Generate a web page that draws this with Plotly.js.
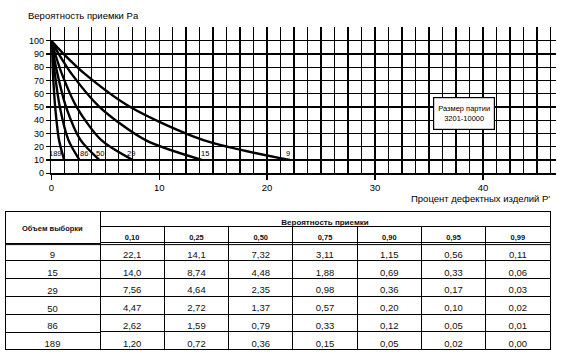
<!DOCTYPE html>
<html>
<head>
<meta charset="utf-8">
<script src="https://cdn.plot.ly/plotly-3.0.1.min.js"></script>
<style>html,body{margin:0;padding:0;background:#fff}#chart{width:568px;height:355px}</style>
</head>
<body>
<div id="chart"></div>
<script>
// ---- data ----
const sampleSizes = [9, 15, 29, 50, 86, 189];
const paValues = [0.10, 0.25, 0.50, 0.75, 0.90, 0.95, 0.99];
const paLabels = ['0,10', '0,25', '0,50', '0,75', '0,90', '0,95', '0,99'];
const p_n9   = [22.1, 14.1, 7.32, 3.11, 1.15, 0.56, 0.11];
const p_n15  = [14.0, 8.74, 4.48, 1.88, 0.69, 0.33, 0.06];
const p_n29  = [7.56, 4.64, 2.35, 0.98, 0.36, 0.17, 0.03];
const p_n50  = [4.47, 2.72, 1.37, 0.57, 0.20, 0.10, 0.02];
const p_n86  = [2.62, 1.59, 0.79, 0.33, 0.12, 0.05, 0.01];
const p_n189 = [1.20, 0.72, 0.36, 0.15, 0.05, 0.02, 0.00];
const startP = 0, startPa = 1.00;
const xTicks = [0, 10, 20, 30, 40];
const yTicks = [0, 10, 20, 30, 40, 50, 60, 70, 80, 90, 100];
const lotLabel = ['Размер партии', '3201-10000'];
const titleY = 'Вероятность приемки Pa';
const titleX = "Процент дефектных изделий P'";
const headSample = 'Объем выборки';
const headPa = 'Вероятность приемки';

// ---- helpers ----
const W = 568, H = 355;
const px = v => v / W;
const py = v => 1 - v / H;
const FONT = 'Liberation Sans, Arial, sans-serif';
const fmt = v => (v >= 10 ? v.toFixed(1) : v.toFixed(2)).replace('.', ',');

const allP = [p_n9, p_n15, p_n29, p_n50, p_n86, p_n189];
const labelShift = [-2, 3, -2, 0, 4, -9];
const X_RANGE = [0, 46.77];

const traces = [];
allP.forEach((arr, i) => {
  const xs = [startP].concat(arr.slice().reverse());
  const ys = [startPa * 100].concat(paValues.slice().reverse().map(v => v * 100));
  traces.push({
    type: 'scatter', mode: 'lines', x: xs, y: ys,
    // first curve is plotted on the fine-grid axis (same scale) so that axis is drawn
    xaxis: i === 0 ? 'x2' : 'x', yaxis: 'y',
    line: {color: '#000', width: 2.4, shape: 'spline', smoothing: 0.8},
    hoverinfo: 'skip', showlegend: false
  });
});

// table traces
const tblLine = {color: '#000', width: 1};
const rowH = 17.83;
const headFont = {family: FONT, size: 7.5, color: '#111', weight: 'bold'};
const headFont2 = {family: FONT, size: 8, color: '#111', weight: 'bold'};
const cellFont = {family: FONT, size: 9.5, color: '#111'};
traces.push({
  type: 'table',
  domain: {x: [px(5), px(100)], y: [0, py(211)]},
  header: {values: [''], height: 32, align: 'center',
           line: tblLine, fill: {color: '#fff'}, font: headFont},
  cells: {values: [sampleSizes.map(String)], height: rowH, align: 'center',
          line: tblLine, fill: {color: '#fff'}, font: cellFont}
});
traces.push({
  type: 'table',
  domain: {x: [px(100), px(550)], y: [py(240), py(211)]},
  header: {values: [headPa], height: 16, align: 'center',
           line: tblLine, fill: {color: '#fff'}, font: headFont2},
  cells: {values: [[]], height: 16, line: tblLine}
});
const colVals = paValues.map((_, j) => allP.map(arr => fmt(arr[j])));
traces.push({
  type: 'table',
  domain: {x: [px(100), px(550)], y: [0, py(226.7)]},
  header: {values: paLabels, height: 16, align: 'center',
           line: tblLine, fill: {color: '#fff'}, font: headFont},
  cells: {values: colVals, height: rowH, align: 'center',
          line: tblLine, fill: {color: '#fff'}, font: cellFont}
});

const annotations = [];
sampleSizes.forEach((n, i) => {
  annotations.push({
    xref: 'x', yref: 'y', x: allP[i][0], y: 15.3, xshift: labelShift[i],
    text: String(n), showarrow: false, font: {family: FONT, size: 7.5, color: '#000'}
  });
});
annotations.push({
  xref: 'x', yref: 'y', x: 38.2, y: 45.1, text: lotLabel.join('<br>'), showarrow: false,
  width: 56, height: 27, borderpad: 2, bordercolor: '#000', borderwidth: 1.2, bgcolor: '#fff',
  font: {family: FONT, size: 7.5, color: '#000'}
});
annotations.push({
  xref: 'paper', yref: 'paper', x: px(409), y: py(198.5), xanchor: 'left', yanchor: 'middle',
  text: titleX, showarrow: false, font: {family: FONT, size: 9.5, color: '#000'}
});
annotations.push({
  xref: 'paper', yref: 'paper', x: px(52.5), y: py(228.5), xanchor: 'center', yanchor: 'middle',
  text: headSample, showarrow: false, font: headFont
});

const layout = {
  width: W, height: H, margin: {l: 0, r: 0, t: 0, b: 0},
  paper_bgcolor: '#fff', plot_bgcolor: '#fff',
  font: {family: FONT, color: '#000'},
  title: {text: titleY, x: px(28), xanchor: 'left', y: py(16), yanchor: 'middle',
          font: {family: FONT, size: 9.5, color: '#000'}},
  showlegend: false,
  xaxis: {
    domain: [px(51.3), px(556)], range: X_RANGE,
    tickmode: 'array', tickvals: xTicks, ticktext: xTicks.map(String),
    ticks: 'outside', ticklen: 5, tickwidth: 1.4, tickcolor: '#000',
    showgrid: true, gridcolor: '#000', gridwidth: 1.4,
    zeroline: false, showline: true, linecolor: '#000', linewidth: 1.5,
    tickfont: {family: FONT, size: 9.5, color: '#000'}, fixedrange: true
  },
  xaxis2: {
    overlaying: 'x', anchor: 'y', side: 'bottom', range: X_RANGE,
    tickmode: 'linear', tick0: 0, dtick: 1.25, ticks: '', showticklabels: false,
    showgrid: true, gridcolor: '#000', gridwidth: 1.4,
    zeroline: false, showline: false, fixedrange: true
  },
  yaxis: {
    domain: [py(173.3), py(26.7)], range: [0, 110.6],
    tickmode: 'array', tickvals: yTicks, ticktext: yTicks.map(String),
    ticks: 'outside', ticklen: 4, tickwidth: 1.4, tickcolor: '#000',
    showgrid: true, gridcolor: '#000', gridwidth: 1.4,
    zeroline: false, showline: true, linecolor: '#000', linewidth: 1.5,
    tickfont: {family: FONT, size: 9, color: '#000'}, fixedrange: true
  },
  annotations: annotations,
  shapes: [
    {type: 'line', xref: 'paper', yref: 'paper', x0: px(5), x1: px(550), y0: py(244.6), y1: py(244.6),
     line: {color: '#000', width: 1}}
  ]
};

Plotly.newPlot('chart', traces, layout, {displayModeBar: false, staticPlot: true});
</script>
</body>
</html>
